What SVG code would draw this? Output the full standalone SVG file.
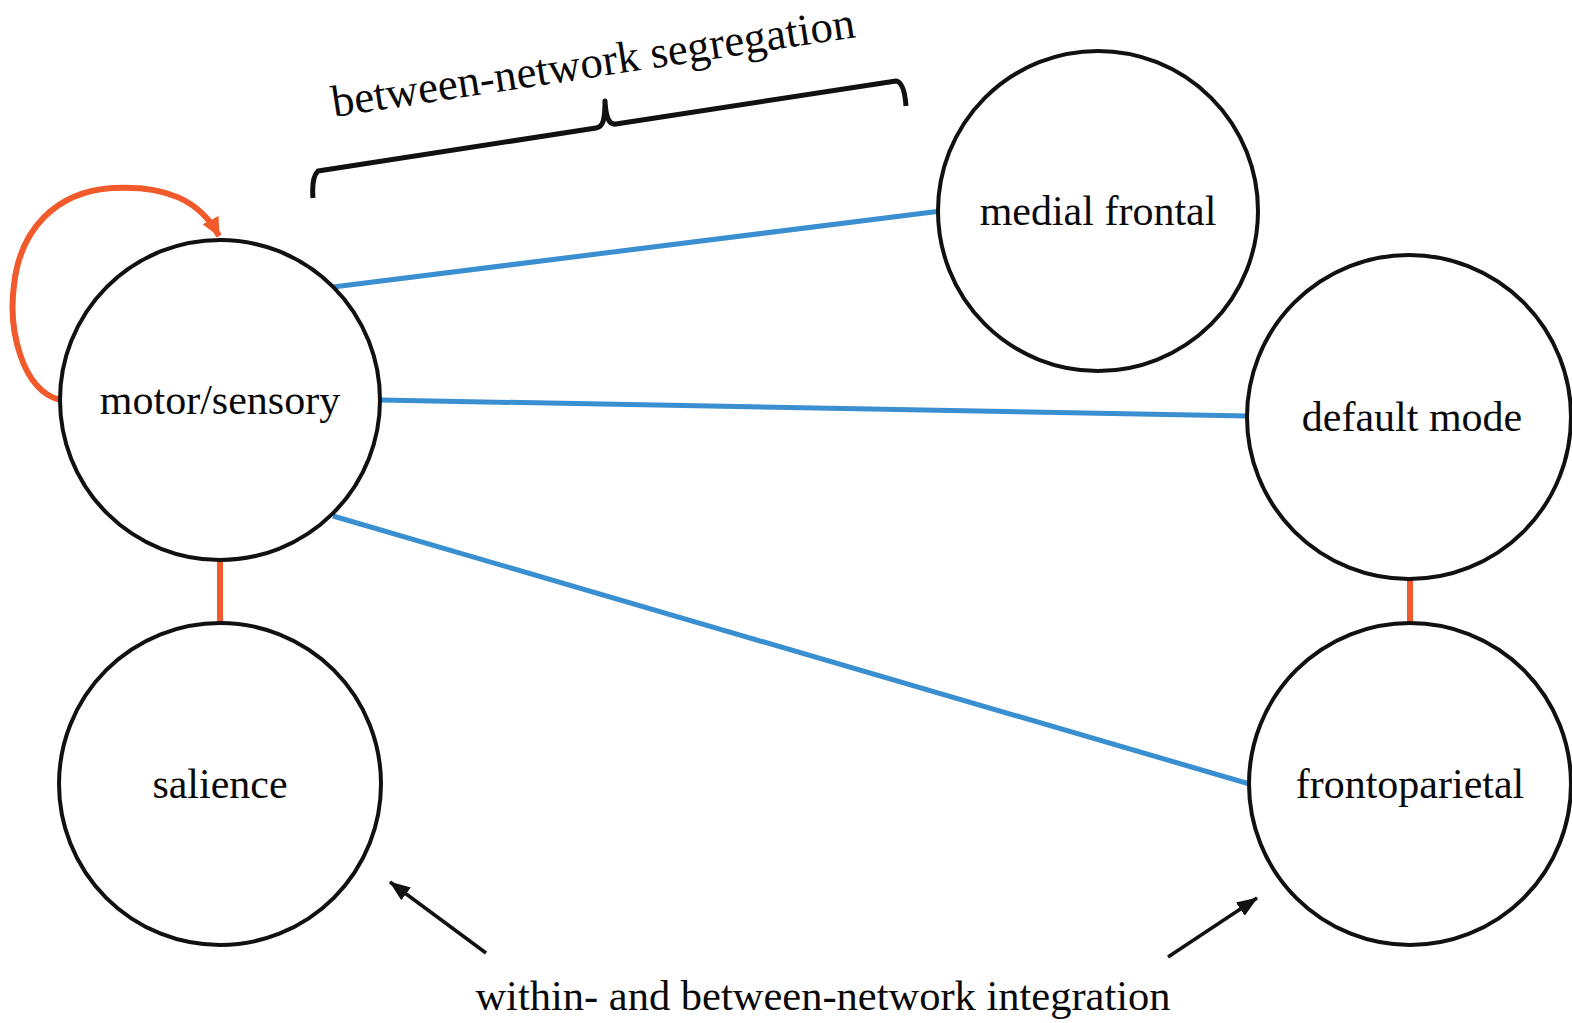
<svg xmlns="http://www.w3.org/2000/svg" width="1572" height="1023" viewBox="0 0 1572 1023">
  <style>
    .node { fill: #ffffff; stroke: #111111; stroke-width: 4; }
    .label { font-family: "Liberation Serif", "Times New Roman", serif; font-size: 42px; fill: #0a0a0a; text-anchor: middle; }
    .blue { stroke: #3a8fd0; stroke-width: 5; fill: none; }
    .orange { stroke: #f15a2b; stroke-width: 6; fill: none; }
    .pointer { stroke: #111111; stroke-width: 3.5; fill: none; }
    .brace { stroke: #111111; stroke-width: 5; fill: none; stroke-linejoin: round; stroke-linecap: butt; }
  </style>
  <defs>
    <marker id="headOrange" markerUnits="userSpaceOnUse" markerWidth="20" markerHeight="20" viewBox="0 0 20 20" refX="18" refY="10" orient="auto">
      <path d="M0,1 L19,10 L0,19 Z" fill="#f15a2b"/>
    </marker>
    <marker id="headBlack" markerUnits="userSpaceOnUse" markerWidth="22" markerHeight="20" viewBox="0 0 22 20" refX="20" refY="10" orient="auto">
      <path d="M0,2 L21,10 L0,18 Z" fill="#111111"/>
    </marker>
  </defs>

  <!-- connectors between networks -->
  <g id="connectors">
    <line class="blue" x1="333" y1="287" x2="941" y2="211"/>
    <line class="blue" x1="380" y1="400" x2="1248" y2="416"/>
    <line class="blue" x1="333" y1="516" x2="1253" y2="785"/>
    <line class="orange" x1="220" y1="562" x2="220" y2="623"/>
    <line class="orange" x1="1410" y1="579" x2="1410" y2="623"/>
    <!-- self loop on motor/sensory -->
    <path class="orange" d="M60,400 C22,390 8,330 14,285 C20,230 55,192 112,188 C165,185 200,200 219,236" marker-end="url(#headOrange)"/>
    <!-- pointers from the integration caption -->
    <line class="pointer" x1="486" y1="953" x2="390" y2="882" marker-end="url(#headBlack)"/>
    <line class="pointer" x1="1168" y1="957" x2="1257" y2="898" marker-end="url(#headBlack)"/>
  </g>

  <g id="node-motor-sensory">
    <circle class="node" cx="220" cy="400" r="160"/>
    <text class="label" x="220" y="414">motor/sensory</text>
  </g>
  <g id="node-salience">
    <circle class="node" cx="220" cy="784" r="161"/>
    <text class="label" x="220" y="798">salience</text>
  </g>
  <g id="node-medial-frontal">
    <circle class="node" cx="1098" cy="211" r="160"/>
    <text class="label" x="1098" y="225">medial frontal</text>
  </g>
  <g id="node-default-mode">
    <circle class="node" cx="1409" cy="417" r="162"/>
    <text class="label" x="1412" y="431">default mode</text>
  </g>
  <g id="node-frontoparietal">
    <circle class="node" cx="1410" cy="784" r="161"/>
    <text class="label" x="1410" y="798">frontoparietal</text>
  </g>

  <!-- segregation brace and caption -->
  <g id="segregation">
    <path class="brace" d="M313,198 C312,186 313,176 318,171 L596,128 C603,127 605,120 605,101 C606,120 610,125 616,124 L896,81 C902,82 905,92 906,106"/>
    <text class="label" transform="translate(334,117) rotate(-8.7)" style="font-size:44.8px;text-anchor:start">between-network segregation</text>
  </g>

  <g id="integration-caption">
    <text class="label" x="823" y="1010" style="font-size:42.5px">within- and between-network integration</text>
  </g>
</svg>
